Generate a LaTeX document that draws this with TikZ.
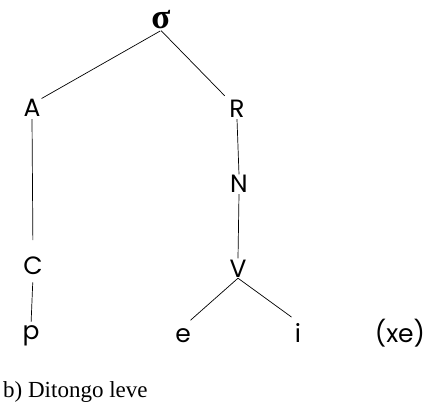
\documentclass[tikz,border=0pt]{standalone}
\usepackage{fontspec}
\setmainfont{Liberation Serif}
\newfontfamily\labelfont{Poppins}
\begin{document}
\begin{tikzpicture}[x=1pt,y=-1pt,
  lab/.style={font=\labelfont\fontsize{25}{25}\selectfont, inner sep=1pt, anchor=base},
  edge/.style={line width=0.7pt}]
\useasboundingbox (0,0) rectangle (424,404);
% syllable node
\node[inner sep=1pt, anchor=base, font=\fontsize{35}{35}\selectfont\bfseries] (sigma) at (161,29) {σ};
% onset branch
\node[lab] (A) at (32,117) {A};
\node[lab] (C) at (33,275) {C};
\node[lab] (p) at (31,340) {p};
% rhyme branch
\node[lab] (R) at (237,118) {R};
\node[lab] (N) at (239,193) {N};
\node[lab] (V) at (238,277) {V};
\node[lab] (e) at (183,342) {e};
\node[lab] (i) at (298,342) {i};
\node[lab] (xe) at (400,342) {(xe)};
% caption
\node[anchor=base west, inner sep=0pt, font=\fontsize{23}{23}\selectfont] (cap) at (3,397) {b) Ditongo leve};
% tree edges
\draw[edge, shorten <=1pt] (sigma.south) -- (A.north east);
\draw[edge, shorten >=5pt] (sigma.south) -- (R.north west);
\draw[edge, shorten <=1pt, shorten >=16pt] (A.south) -- (C.north);
\draw[edge, shorten <=6pt, shorten >=3pt] (C.south) -- (p.north);
\draw[edge] (R.south) -- (N.north);
\draw[edge] (N.south) -- (V.north);
\draw[edge, shorten >=10pt] (V.south) -- (e.north);
\draw[edge, shorten >=8pt] (V.south) -- (i.north);
\end{tikzpicture}
\end{document}
